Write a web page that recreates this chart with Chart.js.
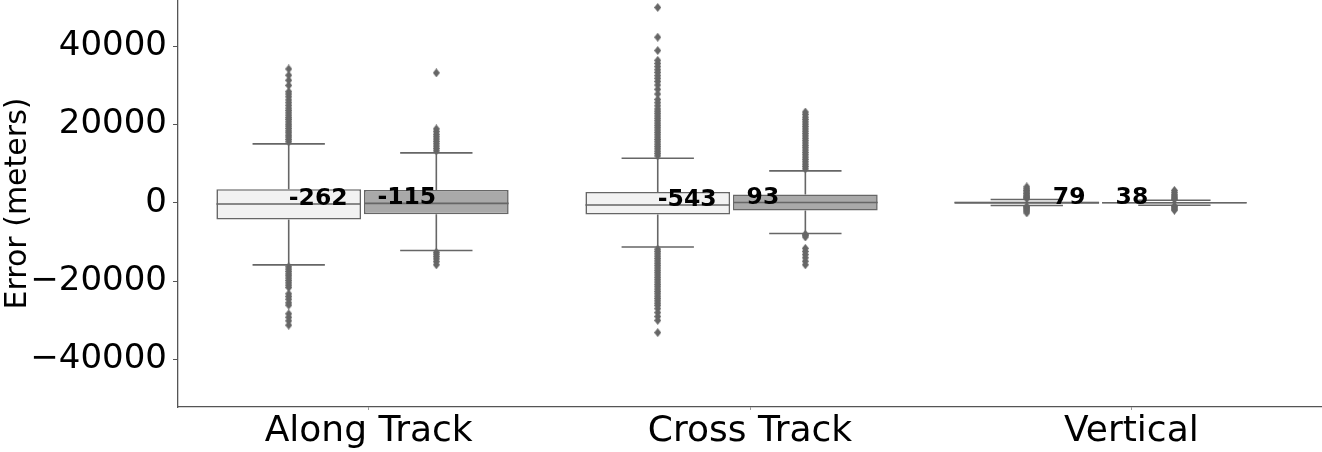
<!DOCTYPE html>
<html>
<head>
<meta charset="utf-8">
<script src="https://cdn.jsdelivr.net/npm/chart.js@4/dist/chart.umd.min.js"></script>
<style>
  html, body { margin: 0; padding: 0; background: #fff; }
  #wrap { width: 1322px; height: 452px; position: relative; }
</style>
</head>
<body>
<div id="wrap"><canvas id="c" width="1322" height="452"></canvas></div>
<script>
// ---------------- DATA ----------------
const categories = ['Along Track', 'Cross Track', 'Vertical'];
const seriesNames = ['Light', 'Dark'];
const yTicks = [-40000, -20000, 0, 20000, 40000];

// light series box statistics (meters)
const lightQ1 = [-4240, -2960, -200];
const lightQ3 = [3500, 2810, 280];
const lightMedian = [-262, -543, 79];
const lightWhiskerLow = [-15830, -11240, -670];
const lightWhiskerHigh = [15070, 11420, 870];

// dark series box statistics (meters)
const darkQ1 = [-2890, -1940, -120];
const darkQ3 = [3320, 2150, 180];
const darkMedian = [-115, 93, 38];
const darkWhiskerLow = [-12160, -7820, -590];
const darkWhiskerHigh = [12770, 8170, 690];

// median labels
const lightLabels = ['-262', '-543', '79'];
const darkLabels = ['-115', '93', '38'];

// outliers
const lightOutliers = [
  [15600, 16200, 16800, 17300, 17900, 18400, 19000, 19600, 20100, 20700, 21300, 21800, 22400, 23000,
   23600, 24200, 24900, 25600, 26300, 27100, 27800, 28400, 30000, 31300, 32600, 34200,
   -16300, -16900, -17500, -18100, -18600, -19200, -19800, -20400, -21000, -21600, -23200, -23900,
   -24600, -25500, -26100, -28300, -29200, -30100, -31200],
  [12000, 12600, 13200, 13800, 14400, 15000, 15600, 16200, 16800, 17400, 18000, 18600, 19200, 19800,
   20400, 21000, 21600, 22200, 22800, 23400, 24000, 24800, 25600, 26400, 27800, 29000, 30100, 31000,
   31800, 32500, 33300, 34000, 34800, 35600, 36400, 38900, 42300, 49900,
   -11800, -12400, -13000, -13600, -14200, -14800, -15400, -16000, -16600, -17200, -17800, -18400,
   -19000, -19600, -20200, -20800, -21400, -22000, -22600, -23200, -23800, -24400, -25000, -25600,
   -26200, -27000, -28000, -29000, -30000, -33100],
  [1100, 1400, 1700, 2000, 2400, 2800, 3200, 3600, 4100, -900, -1200, -1500, -1800, -2100, -2550]
];
const darkOutliers = [
  [13300, 13900, 14500, 15100, 15700, 16300, 16900, 17500, 18200, 18900, 33200,
   -12600, -13100, -13700, -14300, -15000, -15800],
  [8700, 9300, 9900, 10500, 11100, 11700, 12300, 12900, 13500, 14100, 14700, 15300, 15900, 16500,
   17100, 17700, 18300, 18900, 19500, 20100, 20700, 21300, 21900, 22600, 23200,
   -8000, -8300, -8700, -11600, -12400, -13200, -14000, -14900, -15800],
  [900, 1200, 1500, 1800, 2200, 2700, 3200, -800, -1000, -1300, -1600, -1860]
];

// ---------------- STYLE ----------------
const LIGHT_FILL = '#f2f2f2';
const DARK_FILL = '#a9a9a9';
const LINE = '#666666';
const AXIS = '#555555';
const HUE_OFFSET = 0.2;      // box centre offset from category (axis units)
const BOX_WIDTH = 0.4 * 0.98;
const LABEL_DX = { light: [-0.12, -0.12, -0.085], dark: [0.12, 0.085, 0.085] };
const FONT = "'DejaVu Sans', sans-serif";

function diamondImage() {
  const c = document.createElement('canvas');
  c.width = 7; c.height = 9;
  const g = c.getContext('2d');
  g.fillStyle = LINE;
  g.beginPath();
  g.moveTo(3.5, 0); g.lineTo(7, 4.5); g.lineTo(3.5, 9); g.lineTo(0, 4.5); g.closePath();
  g.fill();
  return c;
}
const diamond = diamondImage();

function boxBars(q1, q3, off, fill, name) {
  return {
    type: 'bar', label: name, xAxisID: 'xv', yAxisID: 'y', order: 3,
    data: categories.map((_, i) => ({ x: i + off, y: [q1[i], q3[i]] })),
    backgroundColor: fill, borderColor: LINE, borderWidth: 1.6, borderSkipped: false,
    grouped: false, barPercentage: 0.98, categoryPercentage: 1
  };
}
function boxLines(q1, q3, med, lo, hi, off, name) {
  const pts = [];
  const hb = BOX_WIDTH / 2, hc = BOX_WIDTH / 4;
  categories.forEach((_, i) => {
    const x = i + off;
    const seg = (a, b) => { pts.push(a, b, { x: b.x, y: null }); };
    seg({ x: x - hb, y: med[i] }, { x: x + hb, y: med[i] });
    seg({ x: x, y: q3[i] }, { x: x, y: hi[i] });
    seg({ x: x, y: q1[i] }, { x: x, y: lo[i] });
    seg({ x: x - hc, y: hi[i] }, { x: x + hc, y: hi[i] });
    seg({ x: x - hc, y: lo[i] }, { x: x + hc, y: lo[i] });
  });
  return {
    type: 'line', label: name + ' lines', xAxisID: 'xv', yAxisID: 'y', order: 2,
    data: pts, borderColor: LINE, borderWidth: 1.6, pointRadius: 0, spanGaps: false, tension: 0
  };
}
function fliers(out, off, name) {
  const pts = [];
  out.forEach((arr, i) => arr.forEach(v => pts.push({ x: i + off, y: v })));
  return {
    type: 'scatter', label: name + ' outliers', xAxisID: 'xv', yAxisID: 'y', order: 1,
    data: pts, pointStyle: diamond, pointRadius: 4, backgroundColor: LINE, borderColor: LINE
  };
}

const medianLabelPlugin = {
  id: 'medianLabels',
  afterDatasetsDraw(chart) {
    const { ctx } = chart;
    const xs = chart.scales.xv, ys = chart.scales.y;
    ctx.save();
    ctx.font = "bold 23.5px " + FONT;
    ctx.fillStyle = '#000';
    ctx.textAlign = 'center';
    ctx.textBaseline = 'alphabetic';
    categories.forEach((_, i) => {
      ctx.fillText(lightLabels[i], xs.getPixelForValue(i + LABEL_DX.light[i]), ys.getPixelForValue(lightMedian[i]) + 1);
      ctx.fillText(darkLabels[i], xs.getPixelForValue(i + LABEL_DX.dark[i]), ys.getPixelForValue(darkMedian[i]) + 1);
    });
    ctx.restore();
  }
};

new Chart(document.getElementById('c'), {
  data: {
    labels: categories,
    datasets: [
      boxBars(lightQ1, lightQ3, -HUE_OFFSET, LIGHT_FILL, seriesNames[0]),
      boxBars(darkQ1, darkQ3, HUE_OFFSET, DARK_FILL, seriesNames[1]),
      boxLines(lightQ1, lightQ3, lightMedian, lightWhiskerLow, lightWhiskerHigh, -HUE_OFFSET, seriesNames[0]),
      boxLines(darkQ1, darkQ3, darkMedian, darkWhiskerLow, darkWhiskerHigh, HUE_OFFSET, seriesNames[1]),
      fliers(lightOutliers, -HUE_OFFSET, seriesNames[0]),
      fliers(darkOutliers, HUE_OFFSET, seriesNames[1])
    ]
  },
  options: {
    responsive: false,
    animation: false,
    layout: { padding: 0, autoPadding: false },
    plugins: { legend: { display: false }, tooltip: { enabled: false } },
    scales: {
      x: {
        type: 'category', position: 'bottom', offset: true,
        grid: { display: true, drawOnChartArea: false, drawTicks: true, tickLength: 3, color: '#999' },
        border: { display: true, color: AXIS, width: 1.3 },
        ticks: { color: '#000', font: { family: FONT, size: 36 }, padding: 0, maxRotation: 0, autoSkip: false },
        afterFit(s) { s.height = 45; s.paddingLeft = 0; s.paddingRight = 0; }
      },
      xv: {
        type: 'linear', display: false, min: -0.5, max: 2.6, offset: false,
        ticks: { stepSize: 1 }
      },
      y: {
        type: 'linear', position: 'left', min: -52100, max: 51800,
        afterBuildTicks(s) { s.ticks = yTicks.map(v => ({ value: v })); },
        grid: { display: true, drawOnChartArea: false, drawTicks: true, tickLength: 5, color: AXIS },
        border: { display: true, color: AXIS, width: 1.3 },
        ticks: {
          color: '#000', font: { family: FONT, size: 34 }, padding: 6,
          callback: v => String(v).replace('-', '\u2212')
        },
        title: { display: true, text: 'Error (meters)', color: '#000', font: { family: FONT, size: 30 }, padding: 0 },
        afterFit(s) { s.width = 178; s.paddingTop = 0; s.paddingBottom = 0; }
      }
    }
  },
  plugins: [medianLabelPlugin]
});
</script>
</body>
</html>
